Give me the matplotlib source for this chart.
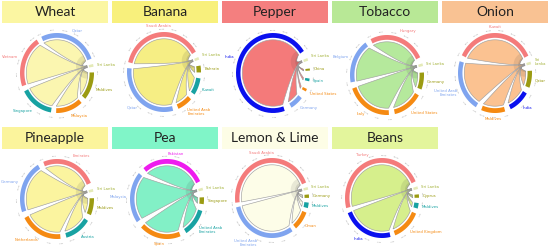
import numpy as np
import matplotlib
matplotlib.use("Agg")
import matplotlib.pyplot as plt
from matplotlib.patches import Polygon, Circle

SALMON = '#f47b7b'
LBLUE = '#7fa4ef'
OLIVE = '#9b9b12'
TEAL = '#18a2a2'
ORANGE = '#f58a12'
BLUE = '#0a10ee'
MAGENTA = '#ee1cee'
SL_COL = '#a4b23a'

titles = ['Wheat', 'Banana', 'Pepper', 'Tobacco', 'Onion',
          'Pineapple', 'Pea', 'Lemon & Lime', 'Beans']
bar_colors = ['#fbf6a2', '#f8f07c', '#f47f7f', '#b8e896', '#f9c293',
              '#fbf49c', '#80f5c8', '#fdfde6', '#e3f59c']
fill_colors = ['#fbf6b0', '#f6ee84', '#f47a7a', '#b5e99c', '#fbc291',
               '#fbf49f', '#82f0c6', '#fdfde8', '#d6ef8c']

# partners of Sri Lanka, clockwise starting next to Sri Lanka
partners = [
    ['Maldives', 'Malaysia', 'Singapore', 'Vietnam', 'Qatar'],
    ['Bahrain', 'Kuwait', 'United Arab\nEmirates', 'Qatar', 'Saudi Arabia'],
    ['China', 'Spain', 'United States', 'Germany', 'India'],
    ['Germany', 'United States', 'Italy', 'Belgium', 'Hungary'],
    ['Qatar', 'India', 'Maldives', 'United Arab\nEmirates', 'Kuwait'],
    ['Maldives', 'Austria', 'Netherlands', 'Germany', 'Emirates'],
    ['Singapore', 'United Arab\nEmirates', 'Spain', 'Malaysia', 'Pakistan'],
    ['Germany', 'Maldives', 'Oman', 'United Arab\nEmirates', 'Saudi Arabia'],
    ['Cyprus', 'Maldives', 'United Kingdom', 'India', 'Turkey'],
]
shares = [
    [41, 43, 53, 76, 94],
    [10, 25, 24, 110, 135],
    [3, 4, 4, 21, 255],
    [25, 47, 73, 65, 90],
    [25, 34, 38, 76, 128],
    [25, 42, 67, 78, 88],
    [10, 41, 66, 76, 103],
    [5, 8, 28, 110, 164],
    [5, 8, 46, 81, 170],
]
arc_colors = [
    [OLIVE, ORANGE, TEAL, SALMON, LBLUE],
    [OLIVE, TEAL, ORANGE, LBLUE, SALMON],
    [OLIVE, TEAL, ORANGE, LBLUE, BLUE],
    [OLIVE, ORANGE, ORANGE, LBLUE, SALMON],
    [OLIVE, BLUE, ORANGE, LBLUE, SALMON],
    [OLIVE, TEAL, ORANGE, LBLUE, SALMON],
    [OLIVE, TEAL, ORANGE, LBLUE, MAGENTA],
    [OLIVE, TEAL, ORANGE, LBLUE, SALMON],
    [OLIVE, TEAL, ORANGE, BLUE, SALMON],
]
sl_start = [13, 22, 22, 17, 16.5, 14.5, 16.5, 16, 17]
SL_SPAN = 4

# layout in pixels
W, H = 550, 250
centers = [(57, 73), (54, 72), (53, 73), (57, 75), (55, 73),
           (57, 199), (57, 199), (52, 198), (52, 198)]
RX, RY = 37, 40
R_IN, R_BAND0, R_BAND1 = 0.83, 0.88, 1.0


def px_rect(x, y, w, h):
    return [x / W, 1 - (y + h) / H, w / W, h / H]


def arc_pts(r, a1, a2, n=50):
    t = np.radians(np.linspace(a1, a2, n))
    return np.column_stack([r * np.cos(t), r * np.sin(t)])


def pol(r, a):
    return np.array([r * np.cos(np.radians(a)), r * np.sin(np.radians(a))])


def bez(p0, p2, c, n=60):
    t = np.linspace(0, 1, n)[:, None]
    return (1 - t) ** 2 * p0 + 2 * (1 - t) * t * c + t ** 2 * p2


def band(ax, a1, a2, color):
    outer = arc_pts(R_BAND1, a1, a2)
    inner = arc_pts(R_BAND0, a2, a1)
    ax.add_patch(Polygon(np.vstack([outer, inner]), closed=True,
                         facecolor=color, edgecolor='none', zorder=3))


def chord(ax, names, vals, cols, fill, start):
    n = len(vals)
    gap = (360 - sum(vals) - SL_SPAN) / (n + 1)
    sl = (start, start - SL_SPAN)
    spans = []
    a = start - SL_SPAN - gap
    for v in vals:
        spans.append((a, a - v))
        a -= v + gap

    # ribbons, each partner ends on its own slice of the Sri Lanka arc
    sub = SL_SPAN / n
    slm = (sl[0] + sl[1]) / 2
    slp = pol(R_IN, slm)
    ctrl = pol(0.6, slm)
    for k in range(n - 1, -1, -1):
        a1, a2 = spans[k]
        s2 = sl[1] + k * sub
        s1 = s2 + sub
        pts = np.vstack([arc_pts(R_IN, a1, a2),
                         bez(pol(R_IN, a2), pol(R_IN, s1), ctrl),
                         arc_pts(R_IN, s1, s2, 5),
                         bez(pol(R_IN, s2), pol(R_IN, a1), ctrl)])
        ax.add_patch(Polygon(pts, closed=True, facecolor=fill,
                             edgecolor='#a0a0a0', lw=0.45, zorder=2))
        for rr, al in [(0.3, 0.10), (0.18, 0.12)]:
            p = Polygon(pts, closed=True, facecolor='#303030', alpha=al,
                        edgecolor='none', zorder=2)
            ax.add_patch(p)
            p.set_clip_path(Circle(slp, rr, transform=ax.transData))

    band(ax, sl[0], sl[1], '#e4eab8')
    for (a1, a2), c in zip(spans, cols):
        band(ax, a1, a2, c)
        # tiny tick labels along the arc
        for t in np.arange(a1, a2, -18):
            ax.text(*pol(1.07, t), f'{(a1 - t) / 3.6:.2f}', fontsize=1.6,
                    color='#999999', ha='center', va='center',
                    rotation=t - 90)

    labels = [('Sri Lanka', slm, SL_COL)]
    labels += [(nm, sum(sp) / 2, c) for nm, sp, c in zip(names, spans, cols)]
    out = []
    for nm, m, c in labels:
        x, y = pol(1.1, m)
        cs, sn = np.cos(np.radians(m)), np.sin(np.radians(m))
        ha = 'left' if cs > 0.3 else ('right' if cs < -0.3 else 'center')
        va = 'bottom' if sn > 0.3 else ('top' if sn < -0.3 else 'center')
        out.append(ax.text(x, y, nm, fontsize=2.8, color=c, ha=ha, va=va,
                           linespacing=1.0, clip_on=False, zorder=4))
    return out


fig = plt.figure(figsize=(W / 100, H / 100), dpi=100)

name_texts = []
for i, title in enumerate(titles):
    row, col = divmod(i, 5)
    x0 = col * 110
    ty = 1 if row == 0 else 127
    bar = fig.add_axes(px_rect(x0 + 2, ty, 106, 22))
    bar.set_facecolor(bar_colors[i])
    bar.set_xticks([])
    bar.set_yticks([])
    for s in bar.spines.values():
        s.set_visible(False)
    bar.text(0.5, 0.5, title, ha='center', va='center', fontsize=10,
             family='Lato', color='#222222', transform=bar.transAxes)

    cx, cy = centers[i]
    ax = fig.add_axes(px_rect(x0 + cx - 1.45 * RX, cy - 1.45 * RY,
                              2.9 * RX, 2.9 * RY))
    ax.set_xlim(-1.45, 1.45)
    ax.set_ylim(-1.45, 1.45)
    ax.axis('off')
    name_texts += chord(ax, partners[i], shares[i], arc_colors[i],
                        fill_colors[i], sl_start[i])

# wrap country names that would run past the right edge
fig.canvas.draw()
r = fig.canvas.get_renderer()
for t in name_texts:
    if t.get_window_extent(r).x1 > W - 1:
        t.set_text(t.get_text().replace(' ', '\n'))

fig.savefig('out.png', dpi=100)
